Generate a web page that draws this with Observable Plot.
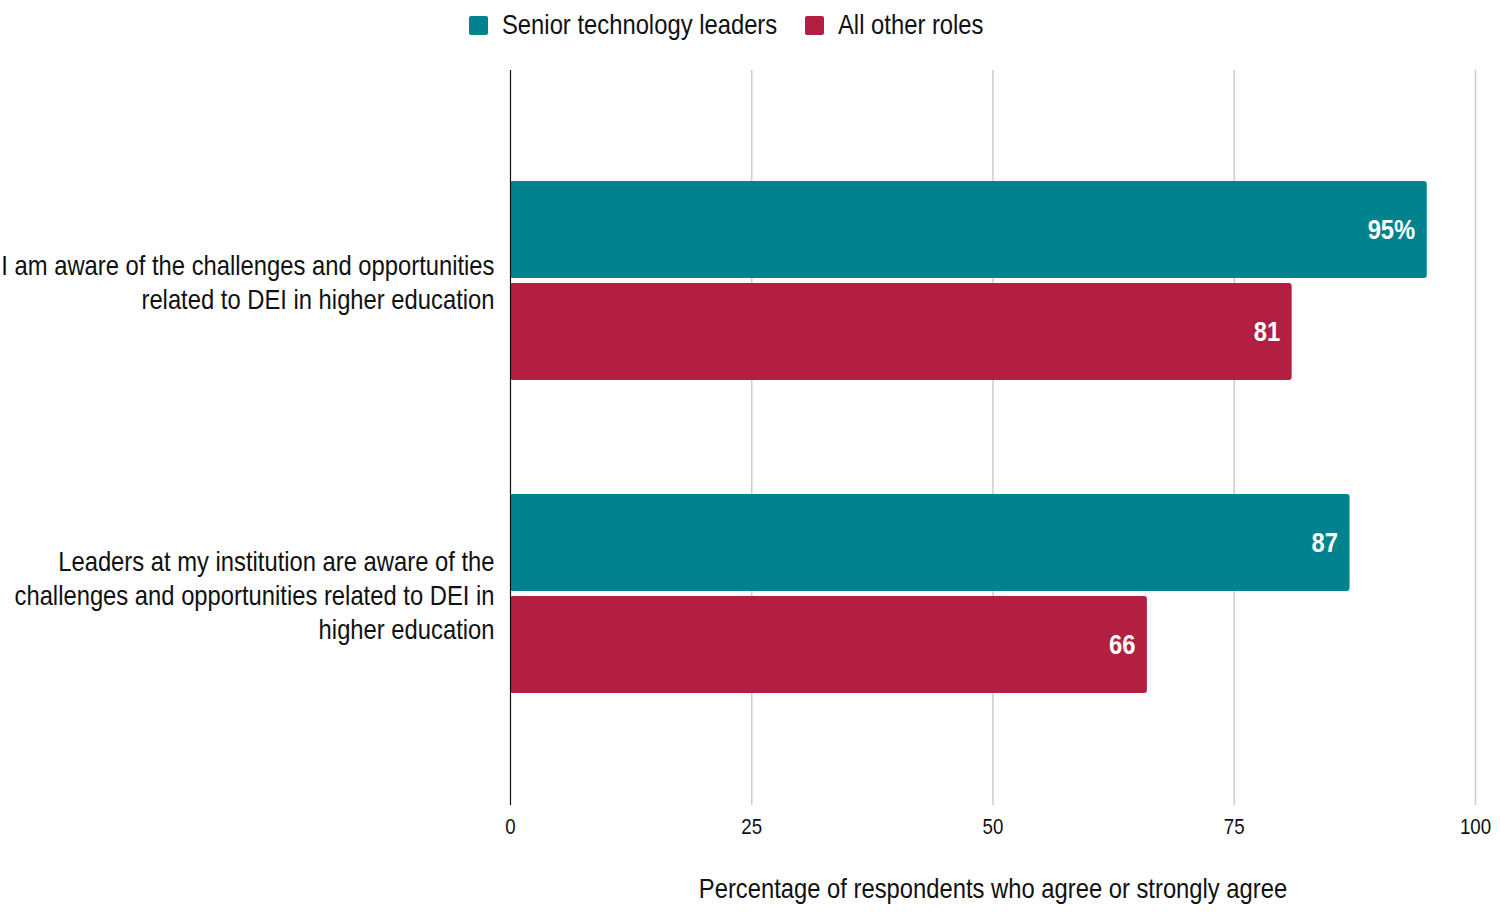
<!DOCTYPE html>
<html>
<head>
<meta charset="utf-8">
<script src="https://cdn.jsdelivr.net/npm/d3@7"></script>
<script src="https://cdn.jsdelivr.net/npm/@observablehq/plot@0.6"></script>
<style>
  html, body { margin: 0; padding: 0; background: #fff; }
  body { width: 1500px; height: 919px; overflow: hidden; font-family: "Liberation Sans", Arial, sans-serif; }
  #legend { position: relative; height: 60px; }
  .sw { position: absolute; top: 16px; width: 19px; height: 19px; border-radius: 2px; }
  .lt { position: absolute; top: 7px; font-size: 28px; color: #111; line-height: 36px; white-space: nowrap; transform: scaleX(0.85); transform-origin: left center; }
</style>
</head>
<body>
<div id="legend"></div>
<div id="chart"></div>
<script>
const questions = [
  "I am aware of the challenges and opportunities related to DEI in higher education",
  "Leaders at my institution are aware of the challenges and opportunities related to DEI in higher education"
];
const questionLabels = [
  "I am aware of the challenges and opportunities\nrelated to DEI in higher education",
  "Leaders at my institution are aware of the\nchallenges and opportunities related to DEI in\nhigher education"
];
const seriesNames = ["Senior technology leaders", "All other roles"];
const seriesColors = ["#00838F", "#B21F41"];
const seniorValues = [95, 87];
const otherValues = [81, 66];
const seniorLabels = ["95%", "87"];
const otherLabels = ["81", "66"];
const xTicks = [0, 25, 50, 75, 100];
const axisLabel = "Percentage of respondents who agree or strongly agree";

const senior = questions.map((q, i) => ({question: q, value: seniorValues[i], label: seniorLabels[i], series: seriesNames[0]}));
const other = questions.map((q, i) => ({question: q, value: otherValues[i], label: otherLabels[i], series: seriesNames[1]}));

// legend (HTML, above the SVG)
const legend = document.getElementById("legend");
const legendSwatchX = [469, 805];
const legendTextX = [502, 838];
seriesNames.forEach((s, i) => {
  const sw = document.createElement("div");
  sw.className = "sw";
  sw.style.left = legendSwatchX[i] + "px";
  sw.style.background = seriesColors[i];
  legend.appendChild(sw);
  const t = document.createElement("div");
  t.className = "lt";
  t.style.left = legendTextX[i] + "px";
  t.textContent = s;
  legend.appendChild(t);
});

const font = '"Liberation Sans", Arial, sans-serif';
const half = 102;

const chart = Plot.plot({
  width: 1500,
  height: 859,
  marginLeft: 510,
  marginRight: 25,
  marginTop: 10,
  marginBottom: 114,
  style: {fontFamily: font, color: "#111", background: "#fff"},
  x: {domain: [0, 100], axis: null},
  y: {domain: questions, paddingInner: 0.363, paddingOuter: 0.352, axis: null},
  color: {domain: seriesNames, range: seriesColors},
  marks: [
    Plot.ruleX(xTicks.filter(d => d > 0), {stroke: "#cccccc", strokeWidth: 1.5}),
    Plot.barX(senior, {x: "value", y: "question", fill: "series", insetBottom: half, rx: 3}),
    Plot.barX(other, {x: "value", y: "question", fill: "series", insetTop: half, rx: 3}),
    Plot.ruleX([0], {stroke: "#111", strokeWidth: 1.2}),
    Plot.text(senior, {x: "value", y: "question", text: "label", dy: -half / 2, dx: -12, textAnchor: "end", fill: "white", fontWeight: "bold", fontSize: 28}),
    Plot.text(other, {x: "value", y: "question", text: "label", dy: half / 2, dx: -12, textAnchor: "end", fill: "white", fontWeight: "bold", fontSize: 28}),
    Plot.axisY({tickSize: 0, tickPadding: 16, fontSize: 28, lineHeight: 1.22, label: null,
      tickFormat: d => questionLabels[questions.indexOf(d)]}),
    Plot.axisX({ticks: xTicks, tickSize: 0, tickPadding: 13, fontSize: 22, label: null, tickFormat: d => String(d)}),
    Plot.text([axisLabel], {frameAnchor: "bottom", dy: 92, fontSize: 28, fill: "#111"})
  ]
});
// emulate a narrow face: squeeze each text horizontally about its own anchor
chart.querySelectorAll("text").forEach(t => {
  const tr = t.getAttribute("transform") || "";
  t.setAttribute("transform", tr + " scale(0.85,1)");
});
document.getElementById("chart").appendChild(chart);
</script>
</body>
</html>
